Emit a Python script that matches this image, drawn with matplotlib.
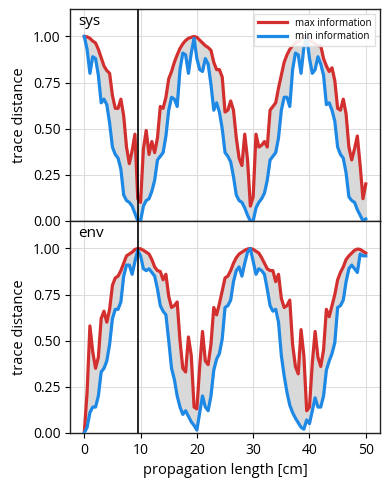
import numpy as np
import matplotlib
matplotlib.use("Agg")
import matplotlib.pyplot as plt

plt.rcParams['font.family'] = ['Open Sans', 'DejaVu Sans']

length_cm = [i * 0.5 for i in range(101)]

sys_max = [1.00, 0.998, 0.99, 0.975, 0.965, 0.93, 0.885, 0.84, 0.815, 0.80,
           0.68, 0.61, 0.61, 0.66, 0.57, 0.40, 0.31, 0.38, 0.47, 0.12,
           0.10, 0.39, 0.49, 0.36, 0.43, 0.37, 0.45, 0.62, 0.61, 0.67,
           0.77, 0.81, 0.86, 0.90, 0.935, 0.96, 0.978, 0.99, 0.995, 1.00,
           0.995, 0.98, 0.965, 0.95, 0.94, 0.925, 0.86, 0.82, 0.82, 0.78,
           0.59, 0.60, 0.65, 0.60, 0.45, 0.34, 0.30, 0.47, 0.33, 0.08,
           0.13, 0.47, 0.40, 0.41, 0.43, 0.40, 0.60, 0.62, 0.64, 0.72,
           0.79, 0.86, 0.90, 0.93, 0.95, 0.965, 0.975, 0.99, 0.997, 1.00,
           0.98, 0.97, 0.96, 0.95, 0.95, 0.88, 0.84, 0.81, 0.83, 0.76,
           0.61, 0.60, 0.66, 0.58, 0.40, 0.33, 0.39, 0.46, 0.30, 0.12,
           0.20]

sys_min = [1.00, 0.93, 0.80, 0.89, 0.88, 0.79, 0.64, 0.66, 0.63, 0.53,
           0.40, 0.36, 0.34, 0.28, 0.14, 0.11, 0.10, 0.08, 0.04, 0.00,
           0.00, 0.08, 0.11, 0.12, 0.16, 0.22, 0.33, 0.35, 0.37, 0.46,
           0.60, 0.67, 0.66, 0.62, 0.82, 0.91, 0.90, 0.80, 0.91, 0.99,
           0.88, 0.82, 0.81, 0.88, 0.85, 0.74, 0.60, 0.64, 0.59, 0.50,
           0.37, 0.35, 0.32, 0.24, 0.14, 0.11, 0.10, 0.07, 0.03, 0.00,
           0.00, 0.07, 0.10, 0.12, 0.15, 0.22, 0.33, 0.35, 0.37, 0.45,
           0.60, 0.67, 0.67, 0.62, 0.82, 0.91, 0.90, 0.80, 0.94, 1.00,
           0.88, 0.80, 0.82, 0.89, 0.85, 0.79, 0.63, 0.64, 0.60, 0.54,
           0.40, 0.36, 0.34, 0.26, 0.13, 0.11, 0.10, 0.06, 0.03, 0.00,
           0.01]

env_max = [0.00, 0.22, 0.58, 0.44, 0.35, 0.41, 0.62, 0.66, 0.60, 0.67,
           0.80, 0.84, 0.85, 0.88, 0.92, 0.96, 0.97, 0.98, 0.995, 1.00,
           0.998, 0.99, 0.98, 0.97, 0.94, 0.90, 0.88, 0.875, 0.83, 0.86,
           0.74, 0.68, 0.69, 0.71, 0.50, 0.35, 0.33, 0.52, 0.42, 0.14,
           0.13, 0.36, 0.55, 0.39, 0.37, 0.48, 0.68, 0.64, 0.70, 0.77,
           0.84, 0.85, 0.88, 0.92, 0.95, 0.97, 0.98, 0.99, 0.997, 1.00,
           0.995, 0.985, 0.975, 0.95, 0.92, 0.89, 0.88, 0.88, 0.82, 0.86,
           0.73, 0.68, 0.69, 0.72, 0.48, 0.36, 0.32, 0.56, 0.42, 0.12,
           0.14, 0.38, 0.55, 0.41, 0.36, 0.45, 0.67, 0.63, 0.69, 0.75,
           0.83, 0.87, 0.90, 0.94, 0.96, 0.975, 0.99, 0.997, 0.995, 0.985,
           0.975]

env_min = [0.00, 0.03, 0.11, 0.14, 0.14, 0.20, 0.33, 0.35, 0.39, 0.48,
           0.62, 0.67, 0.67, 0.71, 0.85, 0.91, 0.91, 0.86, 0.93, 0.99,
           0.96, 0.89, 0.88, 0.89, 0.87, 0.85, 0.78, 0.69, 0.66, 0.64,
           0.50, 0.35, 0.29, 0.20, 0.14, 0.10, 0.12, 0.09, 0.06, 0.04,
           0.015, 0.11, 0.20, 0.14, 0.12, 0.20, 0.34, 0.40, 0.43, 0.51,
           0.68, 0.69, 0.72, 0.82, 0.88, 0.90, 0.85, 0.92, 0.98, 1.00,
           0.93, 0.86, 0.89, 0.88, 0.86, 0.78, 0.69, 0.66, 0.67, 0.60,
           0.42, 0.31, 0.22, 0.15, 0.11, 0.08, 0.055, 0.03, 0.02, 0.07,
           0.05, 0.12, 0.19, 0.14, 0.14, 0.20, 0.34, 0.39, 0.43, 0.49,
           0.68, 0.69, 0.72, 0.82, 0.89, 0.91, 0.89, 0.87, 0.97, 0.96,
           0.96]

marker_x = 9.5
panel_names = ["sys", "env"]
legend_labels = ["max information", "min information"]
yticks = [0.0, 0.25, 0.5, 0.75, 1.0]
xticks = [0, 10, 20, 30, 40, 50]

RED = "#d32f2f"
BLUE = "#1e88e5"

fig = plt.figure(figsize=(3.9, 4.88), dpi=100)
gs = fig.add_gridspec(2, 1, left=0.18, right=0.974, top=0.982, bottom=0.113, hspace=0)
axes = [fig.add_subplot(gs[0]), fig.add_subplot(gs[1])]

data = [(sys_max, sys_min), (env_max, env_min)]
x = np.array(length_cm)
for ax, name, (hi, lo) in zip(axes, panel_names, data):
    hi = np.array(hi); lo = np.array(lo)
    ax.fill_between(x, lo, hi, color="#d9d9d9", zorder=1)
    ax.plot(x, hi, color=RED, lw=2.3, label=legend_labels[0], zorder=3)
    ax.plot(x, lo, color=BLUE, lw=2.3, label=legend_labels[1], zorder=3)
    ax.axvline(marker_x, color="black", lw=1.2, zorder=4)
    ax.set_xlim(-2.5, 52.5)
    ax.set_ylim(0, 1.15)
    ax.set_yticks(yticks)
    ax.set_yticklabels([f"{t:.2f}" for t in yticks])
    ax.set_xticks(xticks)
    ax.grid(True, color="#dddddd", lw=0.8, zorder=0)
    ax.set_axisbelow(True)
    ax.set_ylabel("trace distance", fontsize=10.5)
    ax.tick_params(labelsize=10)
    for s in ax.spines.values():
        s.set_color("#222222")
        s.set_linewidth(1.0)
    ax.text(0.025, 0.975, name, transform=ax.transAxes, ha="left", va="top", fontsize=11)

axes[0].tick_params(labelbottom=False)
axes[0].legend(loc="upper right", fontsize=7, handlelength=3, borderpad=0.4,
               labelspacing=0.3, framealpha=0.9, fancybox=False, edgecolor="#dddddd")
axes[1].set_xlabel("propagation length [cm]", fontsize=10.5)

fig.savefig("out.png", dpi=100)
